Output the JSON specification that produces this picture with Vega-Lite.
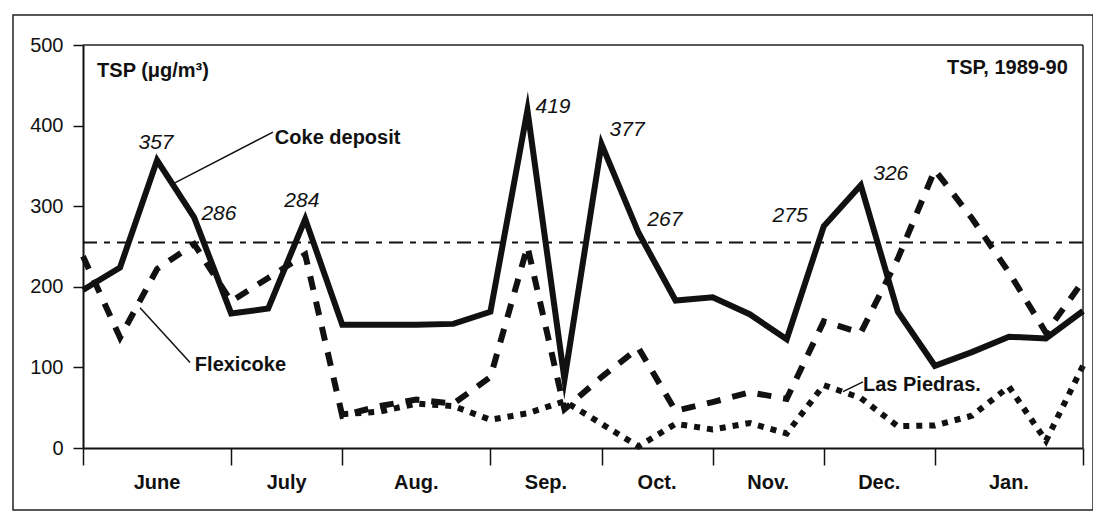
{
  "$schema": "https://vega.github.io/schema/vega-lite/v6.json",
  "width": 1080,
  "height": 495,
  "autosize": {"type": "none"},
  "padding": {"left": 13, "top": 15, "right": 0, "bottom": 1},
  "background": "white",
  "config": {
    "view": {"stroke": "#222", "strokeWidth": 1.5},
    "font": "Liberation Sans",
    "axis": {
      "grid": false, "domainColor": "#111", "domainWidth": 2, "tickColor": "#111",
      "tickWidth": 1.5, "labelFont": "Liberation Sans", "labelColor": "#111"
    }
  },
  "datasets": {
    "tsp": [
      {"i": 0, "coke": 196, "flexi": 238, "lp": null},
      {"i": 1, "coke": 224, "flexi": 137, "lp": null},
      {"i": 2, "coke": 357, "flexi": 222, "lp": null},
      {"i": 3, "coke": 286, "flexi": 253, "lp": null},
      {"i": 4, "coke": 167, "flexi": 182, "lp": null},
      {"i": 5, "coke": 173, "flexi": 211, "lp": null},
      {"i": 6, "coke": 284, "flexi": 240, "lp": null},
      {"i": 7, "coke": 153, "flexi": 40, "lp": 42},
      {"i": 8, "coke": 153, "flexi": 52, "lp": 45},
      {"i": 9, "coke": 153, "flexi": 60, "lp": 55},
      {"i": 10, "coke": 154, "flexi": 55, "lp": 52},
      {"i": 11, "coke": 169, "flexi": 88, "lp": 35},
      {"i": 12, "coke": 419, "flexi": 250, "lp": 43},
      {"i": 13, "coke": 85, "flexi": 48, "lp": 58},
      {"i": 14, "coke": 377, "flexi": 88, "lp": 30},
      {"i": 15, "coke": 267, "flexi": 124, "lp": 2},
      {"i": 16, "coke": 183, "flexi": 46, "lp": 30},
      {"i": 17, "coke": 187, "flexi": 57, "lp": 23},
      {"i": 18, "coke": 166, "flexi": 69, "lp": 31},
      {"i": 19, "coke": 135, "flexi": 61, "lp": 18},
      {"i": 20, "coke": 275, "flexi": 157, "lp": 78},
      {"i": 21, "coke": 326, "flexi": 143, "lp": 62},
      {"i": 22, "coke": 169, "flexi": 235, "lp": 27},
      {"i": 23, "coke": 102, "flexi": 345, "lp": 28},
      {"i": 24, "coke": 119, "flexi": 285, "lp": 40},
      {"i": 25, "coke": 138, "flexi": 218, "lp": 76},
      {"i": 26, "coke": 136, "flexi": 143, "lp": 9},
      {"i": 27, "coke": 170, "flexi": 207, "lp": 102}
    ],
    "peaks": [
      {"t": "357", "i": 1.97, "v": 379},
      {"t": "286", "i": 3.67, "v": 290},
      {"t": "284", "i": 5.91, "v": 307},
      {"t": "419", "i": 12.69, "v": 423},
      {"t": "377", "i": 14.69, "v": 394},
      {"t": "267", "i": 15.71, "v": 283},
      {"t": "275", "i": 19.09, "v": 288},
      {"t": "326", "i": 21.81, "v": 340}
    ],
    "names": [
      {"t": "TSP (μg/m³)", "i": 0.38, "v": 468},
      {"t": "Coke deposit", "i": 5.18, "v": 384},
      {"t": "Flexicoke", "i": 3.02, "v": 103},
      {"t": "Las Piedras.", "i": 21.06, "v": 78}
    ],
    "corner": [
      {"t": "TSP, 1989-90", "i": 26.59, "v": 472}
    ],
    "leaders": [
      {"i": 2.48, "v": 329, "i2": 5.13, "v2": 392},
      {"i": 1.54, "v": 174, "i2": 2.89, "v2": 106},
      {"i": 20.52, "v": 70, "i2": 21.06, "v2": 82}
    ],
    "box": [
      {"i": 0, "i2": 27, "v": 500, "v2": 500},
      {"i": 27, "i2": 27, "v": 0, "v2": 500}
    ],
    "standard": [
      {"i": 0, "i2": 27, "v": 255}
    ],
    "months": [
      {"m": "June", "c": 2},
      {"m": "July", "c": 5.5},
      {"m": "Aug.", "c": 9},
      {"m": "Sep.", "c": 12.5},
      {"m": "Oct.", "c": 15.5},
      {"m": "Nov.", "c": 18.5},
      {"m": "Dec.", "c": 21.5},
      {"m": "Jan.", "c": 25}
    ]
  },
  "layer": [
    {
      "data": {"name": "tsp"},
      "mark": {"type": "line", "strokeWidth": 6, "strokeDash": [6, 7], "strokeCap": "butt", "color": "#111"},
      "encoding": {
        "x": {
          "field": "i", "type": "quantitative",
          "scale": {"domain": [0, 27], "range": [70, 1070], "nice": false, "zero": false},
          "axis": {
            "values": [0, 4, 7, 11, 14, 17, 20, 23, 27], "labels": false, "offset": -62,
            "title": null, "tickSize": 17
          }
        },
        "y": {
          "field": "lp", "type": "quantitative",
          "scale": {"domain": [0, 500], "range": [433, 30], "nice": false, "zero": true},
          "axis": {
            "values": [0, 100, 200, 300, 400, 500], "offset": -70, "title": null,
            "tickSize": 10, "labelFontSize": 20, "labelPadding": 10,
            "labelFlush": false, "labelOverlap": false
          }
        }
      }
    },
    {
      "data": {"name": "standard"},
      "mark": {"type": "rule", "strokeDash": [14, 7, 6, 7], "strokeWidth": 2, "color": "#111"},
      "encoding": {
        "x": {"field": "i", "type": "quantitative", "axis": {"title": null}},
        "x2": {"field": "i2"},
        "y": {"field": "v", "type": "quantitative", "axis": {"title": null}}
      }
    },
    {
      "data": {"name": "box"},
      "mark": {"type": "rule", "strokeWidth": 1.5, "color": "#222"},
      "encoding": {
        "x": {"field": "i", "type": "quantitative", "axis": {"title": null}},
        "x2": {"field": "i2"},
        "y": {"field": "v", "type": "quantitative", "axis": {"title": null}},
        "y2": {"field": "v2"}
      }
    },
    {
      "data": {"name": "tsp"},
      "mark": {"type": "line", "strokeWidth": 6, "strokeDash": [14, 12], "strokeCap": "butt", "strokeMiterLimit": 10, "color": "#111"},
      "encoding": {
        "x": {"field": "i", "type": "quantitative", "axis": {"title": null}},
        "y": {"field": "flexi", "type": "quantitative", "axis": {"title": null}}
      }
    },
    {
      "data": {"name": "tsp"},
      "mark": {"type": "line", "strokeWidth": 6, "strokeJoin": "miter", "strokeMiterLimit": 12, "color": "#111"},
      "encoding": {
        "x": {"field": "i", "type": "quantitative", "axis": {"title": null}},
        "y": {"field": "coke", "type": "quantitative", "axis": {"title": null}}
      }
    },
    {
      "data": {"name": "leaders"},
      "mark": {"type": "rule", "strokeWidth": 1.5, "color": "#111"},
      "encoding": {
        "x": {"field": "i", "type": "quantitative", "axis": {"title": null}},
        "y": {"field": "v", "type": "quantitative", "axis": {"title": null}},
        "x2": {"field": "i2"},
        "y2": {"field": "v2"}
      }
    },
    {
      "data": {"name": "peaks"},
      "mark": {"type": "text", "fontSize": 21, "fontStyle": "italic", "font": "Liberation Sans", "color": "#111", "baseline": "middle", "align": "center"},
      "encoding": {
        "x": {"field": "i", "type": "quantitative", "axis": {"title": null}},
        "y": {"field": "v", "type": "quantitative", "axis": {"title": null}},
        "text": {"field": "t"}
      }
    },
    {
      "data": {"name": "names"},
      "mark": {"type": "text", "fontSize": 20, "fontWeight": "bold", "font": "Liberation Sans", "color": "#111", "baseline": "middle", "align": "left"},
      "encoding": {
        "x": {"field": "i", "type": "quantitative", "axis": {"title": null}},
        "y": {"field": "v", "type": "quantitative", "axis": {"title": null}},
        "text": {"field": "t"}
      }
    },
    {
      "data": {"name": "corner"},
      "mark": {"type": "text", "fontSize": 20, "fontWeight": "bold", "font": "Liberation Sans", "color": "#111", "baseline": "middle", "align": "right"},
      "encoding": {
        "x": {"field": "i", "type": "quantitative", "axis": {"title": null}},
        "y": {"field": "v", "type": "quantitative", "axis": {"title": null}},
        "text": {"field": "t"}
      }
    },
    {
      "data": {"name": "months"},
      "mark": {"type": "text", "fontSize": 20, "fontWeight": "bold", "font": "Liberation Sans", "color": "#111", "baseline": "middle", "align": "center"},
      "encoding": {
        "x": {"field": "c", "type": "quantitative", "axis": {"title": null}},
        "y": {"datum": -43, "type": "quantitative", "axis": {"title": null}},
        "text": {"field": "m"}
      }
    }
  ]
}
